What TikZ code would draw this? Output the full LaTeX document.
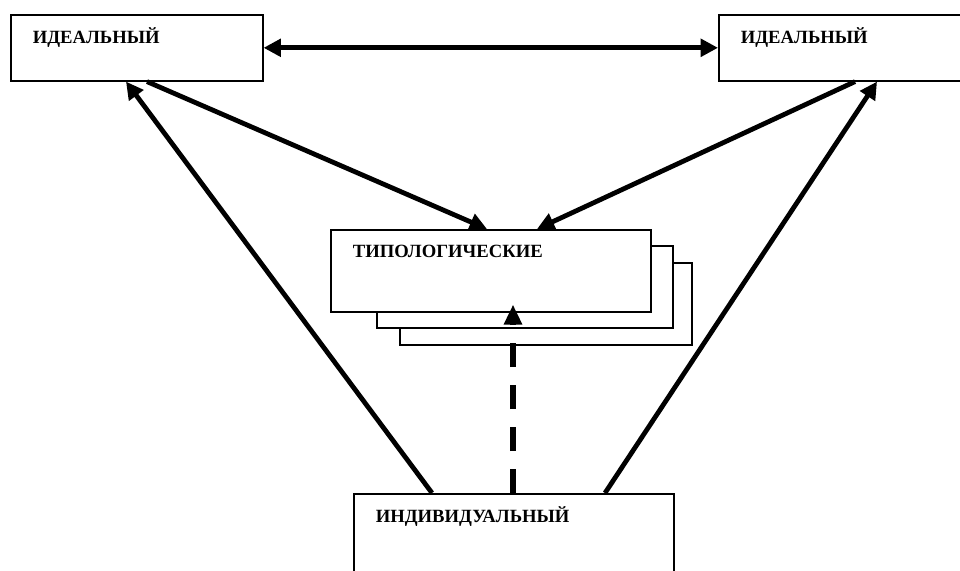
\documentclass[tikz,border=0pt]{standalone}
\usepackage{fontspec}
\setmainfont{Liberation Serif}
\usetikzlibrary{arrows.meta}

\tikzset{
  blok/.style={draw, line width=1.2pt, fill=white, anchor=north west, inner xsep=16.5pt, inner ysep=0pt,
    align=left, text height=21.75pt, font=\fontsize{14}{16}\selectfont\bfseries},
  leaf/.style={draw, line width=1.2pt, fill=white, anchor=north west, inner sep=0pt},
  arr/.style={line width=3.6pt, -{Triangle[length=13pt,width=13pt]}},
  darr/.style={line width=3.6pt, {Triangle[length=13pt,width=13pt]}-{Triangle[length=13pt,width=13pt]}},
  dasharr/.style={line width=5pt, dash pattern=on 18pt off 13.5pt, -{Triangle[length=15pt,width=13pt]}}
}

\begin{document}
\begin{tikzpicture}[x=0.75pt, y=-0.75pt]
    \useasboundingbox (0,0) rectangle (960,571);
    \clip (0,0) rectangle (960,571);
    \node[blok, text width=156pt, text depth=27.75pt] (ideal1) at (10,14) {ИДЕАЛЬНЫЙ};
    \node[blok, text width=154.5pt, text depth=27.75pt] (ideal2) at (718,14) {ИДЕАЛЬНЫЙ};
    \node[leaf, minimum width=219pt, minimum height=61.5pt] (typ3) at (399,262) {};
    \node[leaf, minimum width=222pt, minimum height=61.5pt] (typ2) at (376,245) {};
    \node[blok, text width=207pt, text height=21pt, text depth=40.5pt] (typ) at (330,229) {ТИПОЛОГИЧЕСКИЕ};
    \node[blok, text width=207pt, text depth=53.25pt] (indiv) at (353,493) {ИНДИВИДУАЛЬНЫЙ};

    \draw[darr] (ideal1.east) -- (ideal2.west);
    \draw[arr] ([xshift=102.75pt]ideal1.south west) -- ([xshift=117.75pt]typ.north west);
    \draw[arr] ([xshift=102.75pt]ideal2.south west) -- ([xshift=155.25pt]typ.north west);
    \draw[arr] ([xshift=59.25pt]indiv.north west) -- ([xshift=87pt]ideal1.south west);
    \draw[arr] ([xshift=189pt]indiv.north west) -- ([xshift=119.25pt]ideal2.south west);
    \draw[dasharr] ([xshift=120pt]indiv.north west) -- ([xshift=137.25pt,yshift=6pt]typ.south west);
\end{tikzpicture}
\end{document}
